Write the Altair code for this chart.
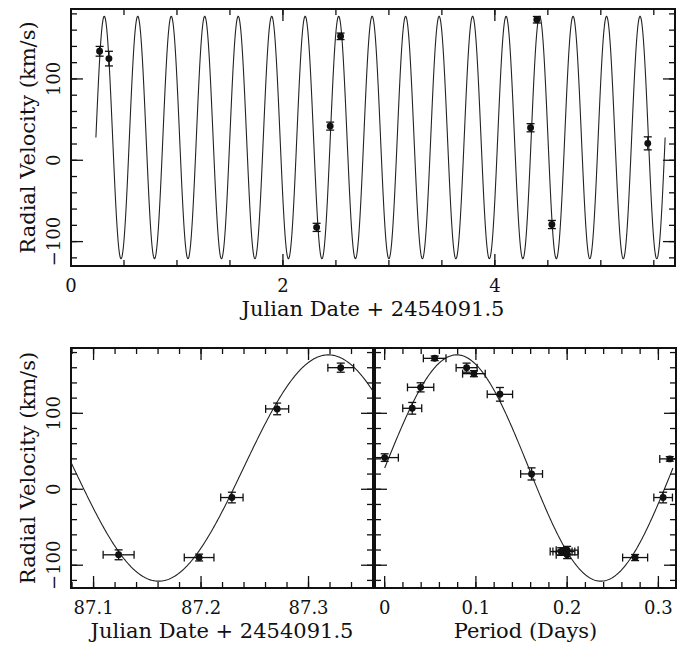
import altair as alt
import numpy as np
import pandas as pd

# ---------------- fitted sine parameters ----------------
PERIOD = 0.316          # days
GAMMA = 28.0            # km/s
K_AMP = 149.0           # km/s
T0_TOP = 0.235          # upward zero-phase in top panel (JD - 2454091.5)
N_CYCLES_TOP = 17
T0_BL = 87.2395         # upward zero-phase in bottom-left panel

# ---------------- data ----------------
top_t = [0.270, 0.358, 2.318, 2.446, 2.544, 4.337, 4.396, 4.538, 5.443]
top_v = [134.0, 125.0, -82.5, 42.0, 152.4, 40.0, 172.8, -79.0, 20.8]
top_verr = [6, 9, 5, 5, 4, 5, 4, 5, 8]

bl_t = [87.1233, 87.1982, 87.2287, 87.2708, 87.3300]
bl_v = [-86.3, -89.9, -10.9, 105.8, 160.1]
bl_terr = [0.0144, 0.0138, 0.0104, 0.0107, 0.0120]
bl_verr = [6.5, 4.5, 7.0, 7.7, 6.0]

ph_t = [0.0, 0.0302, 0.0394, 0.0548, 0.0898, 0.0978, 0.1263, 0.1610,
        0.1934, 0.1964, 0.2000, 0.2000, 0.2745, 0.3052, 0.3125]
ph_v = [41.7, 106.6, 134.2, 172.4, 160.1, 152.2, 125.0, 20.2,
        -82.0, -82.0, -80.2, -86.3, -89.9, -10.9, 40.0]
ph_terr = [0.015, 0.0104, 0.0144, 0.0124, 0.0115, 0.0124, 0.0139, 0.012,
           0.012, 0.012, 0.012, 0.012, 0.0137, 0.0102, 0.011]
ph_verr = [5, 7.7, 6, 3, 6, 4, 9, 8, 5, 5, 5, 5, 4, 7, 3]

Y_DOMAIN = [-130, 186]
TOP_X_DOMAIN = [0, 5.7]
BL_X_DOMAIN = [87.079, 87.36]
BR_X_DOMAIN = [-0.0106, 0.3193]

Y_MAJOR = [-100, 0, 100]
Y_LABELS = ["\u2212100", "0", "100"]
Y_MINOR = list(range(-120, 181, 20))
TOP_X_MAJOR = [0, 2, 4]
TOP_X_LABELS = ["0", "2", "4"]
TOP_X_MINOR = [round(0.5 * i, 2) for i in range(0, 12)]
BL_X_MAJOR = [87.1, 87.2, 87.3]
BL_X_LABELS = ["87.1", "87.2", "87.3"]
BL_X_MINOR = [round(87.08 + 0.02 * i, 2) for i in range(0, 15)]
BR_X_MAJOR = [0, 0.1, 0.2, 0.3]
BR_X_LABELS = ["0", "0.1", "0.2", "0.3"]
BR_X_MINOR = [round(0.02 * i, 2) for i in range(0, 16)]

XTITLE = "Julian Date + 2454091.5"
PTITLE = "Period (Days)"
YTITLE = "Radial Velocity (km/s)"

FONT = "DejaVu Serif"
MAJ = 12   # inward major tick length (px)
MIN = 6    # inward minor tick length (px)
INK = "#111"


def model(t, t0):
    return GAMMA + K_AMP * np.sin(2 * np.pi * (np.asarray(t) - t0) / PERIOD)


t1 = np.linspace(T0_TOP, T0_TOP + N_CYCLES_TOP * PERIOD, 3000)
curve_top = pd.DataFrame({"t": t1, "v": model(t1, T0_TOP)})
t2 = np.linspace(BL_X_DOMAIN[0], BL_X_DOMAIN[1], 400)
curve_bl = pd.DataFrame({"t": t2, "v": model(t2, T0_BL)})
t3 = np.linspace(0, PERIOD, 400)
curve_br = pd.DataFrame({"t": t3, "v": model(t3, 0.0)})


def pts_frame(t, v, verr, terr=None):
    df = pd.DataFrame({"t": t, "v": v})
    df["vlo"] = df["v"] - np.asarray(verr)
    df["vhi"] = df["v"] + np.asarray(verr)
    if terr is not None:
        df["tlo"] = df["t"] - np.asarray(terr)
        df["thi"] = df["t"] + np.asarray(terr)
    return df


pts_top = pts_frame(top_t, top_v, top_verr)
pts_bl = pts_frame(bl_t, bl_v, bl_verr, bl_terr)
pts_br = pts_frame(ph_t, ph_v, ph_verr, ph_terr)


def frame_ticks(xdom, w, h, xmaj, xmin):
    """Tick segments on all four sides; lengths converted from px to data units."""
    ux = (xdom[1] - xdom[0]) / w
    uy = (Y_DOMAIN[1] - Y_DOMAIN[0]) / h
    rows = []
    for vals, L in ((xmaj, MAJ), (xmin, MIN)):
        for v in vals:
            rows.append({"xa": v, "xb": v, "ya": Y_DOMAIN[0], "yb": Y_DOMAIN[0] + L * uy})
            rows.append({"xa": v, "xb": v, "ya": Y_DOMAIN[1] - L * uy, "yb": Y_DOMAIN[1]})
    for vals, L in ((Y_MAJOR, MAJ), (Y_MINOR, MIN)):
        for v in vals:
            rows.append({"xa": xdom[0], "xb": xdom[0] + L * ux, "ya": v, "yb": v})
            rows.append({"xa": xdom[1] - L * ux, "xb": xdom[1], "ya": v, "yb": v})
    return pd.DataFrame(rows)


def panel(curve, pts, xdom, w, h, xmaj, xlabels, xmin, xtitle, ylabels, xerr):
    xs = alt.Scale(domain=xdom, nice=False, zero=False)
    ys = alt.Scale(domain=Y_DOMAIN, nice=False, zero=False)
    c = alt.Chart(curve)
    p = alt.Chart(pts)

    def X(f):
        return alt.X(f, scale=xs, axis=None)

    def Y(f):
        return alt.Y(f, scale=ys, axis=None)

    line = c.mark_line(color="#222", strokeWidth=1.1, clip=True).encode(
        x=X("t:Q"), y=Y("v:Q"))
    layers = [line]

    # tick labels and axis titles
    xl = pd.DataFrame({"val": xmaj, "label": xlabels})
    layers.append(alt.Chart(xl).mark_text(
        font=FONT, fontSize=18, color=INK, align="center", baseline="top").encode(
        x=X("val:Q"), y=alt.value(h + 12), text="label:N"))
    layers.append(alt.Chart(pd.DataFrame({"label": [xtitle]})).mark_text(
        font=FONT, fontSize=21, color=INK, align="center", baseline="alphabetic").encode(
        x=alt.value(w / 2), y=alt.value(h + 50), text="label:N"))
    if ylabels:
        yl = pd.DataFrame({"val": Y_MAJOR, "label": Y_LABELS})
        layers.append(alt.Chart(yl).mark_text(
            font=FONT, fontSize=18, color=INK, align="center", baseline="alphabetic",
            angle=270).encode(
            y=Y("val:Q"), x=alt.value(-11), text="label:N"))
        layers.append(alt.Chart(pd.DataFrame({"label": [YTITLE]})).mark_text(
            font=FONT, fontSize=21, color=INK, align="center", baseline="alphabetic",
            angle=270).encode(
            x=alt.value(-36), y=alt.value(h / 2), text="label:N"))

    ebar = p.mark_rule(color=INK, strokeWidth=1.3, clip=True).encode(
        x=X("t:Q"), y=Y("vlo:Q"), y2="vhi:Q")
    cap_lo = p.mark_tick(color=INK, orient="horizontal", size=8,
                         thickness=1.3, clip=True, opacity=1).encode(
        x=X("t:Q"), y=Y("vlo:Q"))
    cap_hi = p.mark_tick(color=INK, orient="horizontal", size=8,
                         thickness=1.3, clip=True, opacity=1).encode(
        x=X("t:Q"), y=Y("vhi:Q"))
    layers += [ebar, cap_lo, cap_hi]

    if xerr:
        xbar = p.mark_rule(color=INK, strokeWidth=1.3, clip=True).encode(
            x=X("tlo:Q"), x2="thi:Q", y=Y("v:Q"))
        xcap_lo = p.mark_tick(color=INK, orient="vertical", size=8,
                              thickness=1.3, clip=True, opacity=1).encode(
            x=X("tlo:Q"), y=Y("v:Q"))
        xcap_hi = p.mark_tick(color=INK, orient="vertical", size=8,
                              thickness=1.3, clip=True, opacity=1).encode(
            x=X("thi:Q"), y=Y("v:Q"))
        layers += [xbar, xcap_lo, xcap_hi]

    dots = p.mark_circle(color=INK, size=48, opacity=1, clip=True).encode(
        x=X("t:Q"), y=Y("v:Q"))
    layers.append(dots)

    # inward frame ticks: segments built in data units and drawn through the scales
    ft = frame_ticks(xdom, w, h, xmaj, xmin)
    layers.append(alt.Chart(ft).mark_rule(color=INK, strokeWidth=1.3, clip=True).encode(
        x=X("xa:Q"), x2="xb:Q", y=Y("ya:Q"), y2="yb:Q"))

    return alt.layer(*layers).properties(width=w, height=h)


top = panel(curve_top, pts_top, TOP_X_DOMAIN, 604, 257, TOP_X_MAJOR, TOP_X_LABELS,
            TOP_X_MINOR, XTITLE, True, False)
bl = panel(curve_bl, pts_bl, BL_X_DOMAIN, 302, 240, BL_X_MAJOR, BL_X_LABELS,
           BL_X_MINOR, XTITLE, True, True)
br = panel(curve_br, pts_br, BR_X_DOMAIN, 301, 240, BR_X_MAJOR, BR_X_LABELS,
           BR_X_MINOR, PTITLE, False, True)

chart = alt.vconcat(
    top,
    alt.hconcat(bl, br, spacing=0),
    spacing=26,
).properties(
    padding={"left": 8, "top": 0, "right": 5, "bottom": 5},
    background="white",
).configure_view(
    stroke=INK, strokeWidth=2
)

chart.save("out.html", embed_options={"renderer": "svg", "actions": False})
